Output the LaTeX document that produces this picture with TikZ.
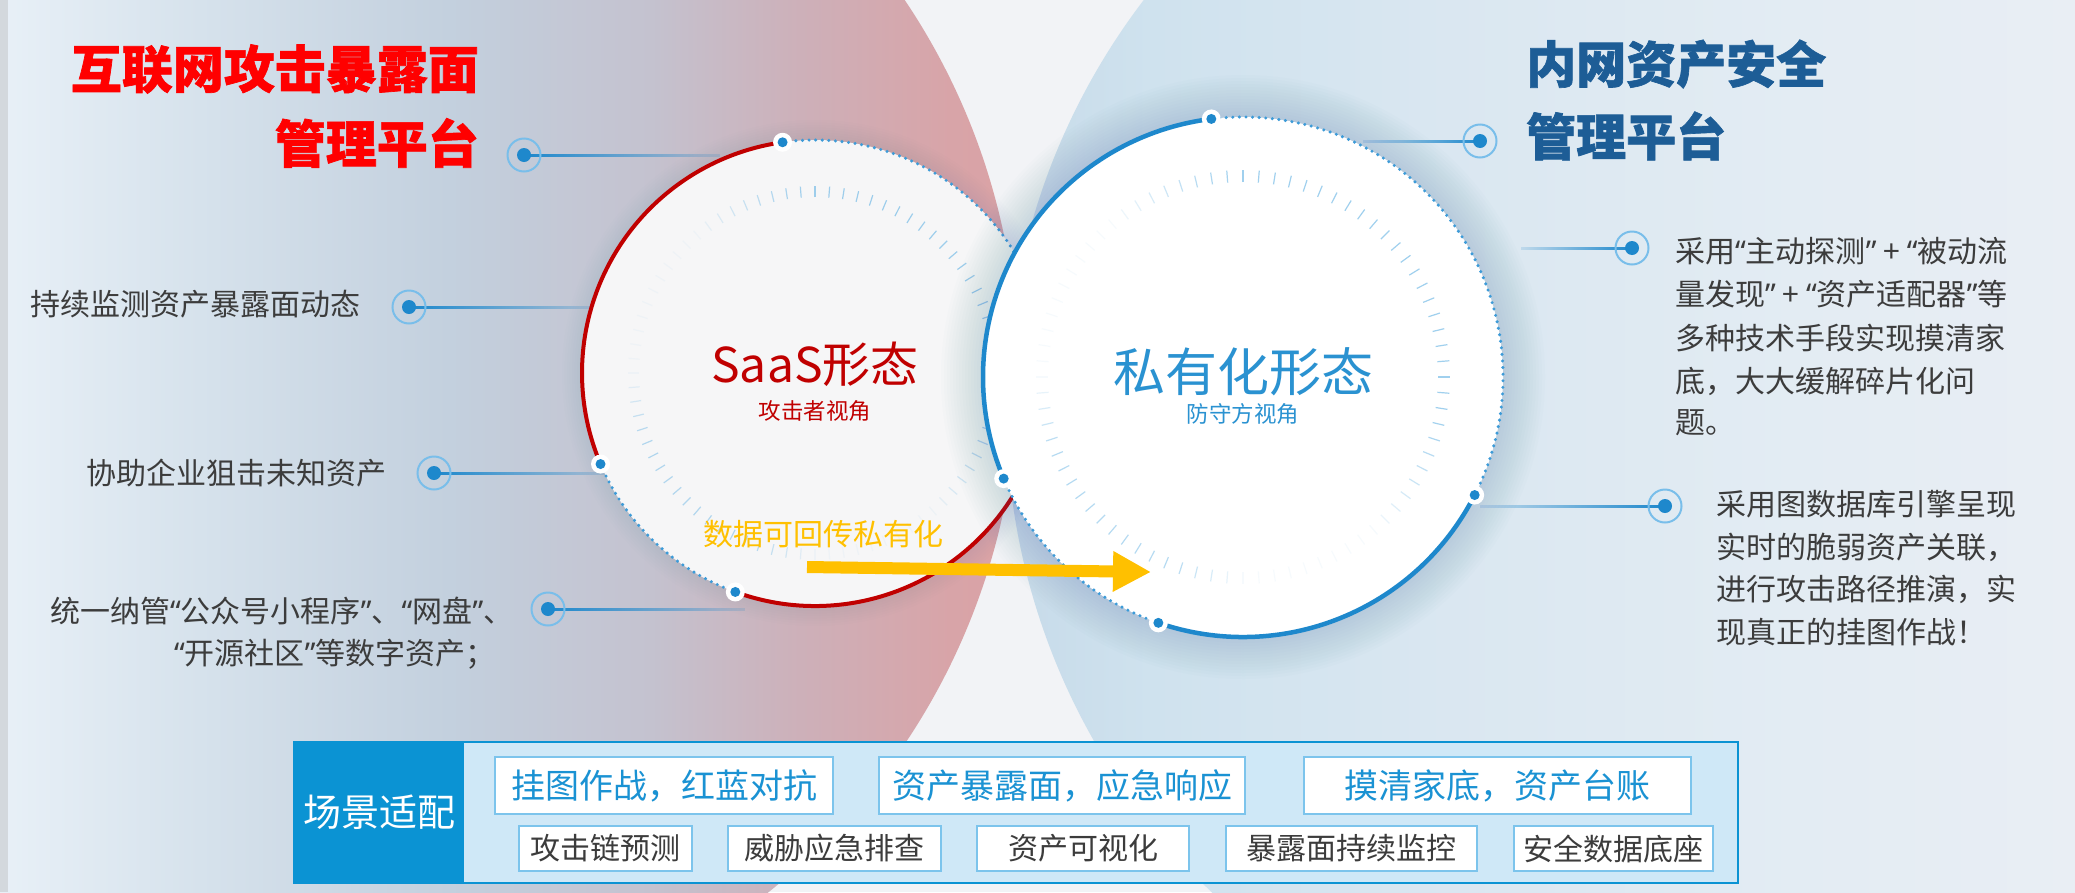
\documentclass[tikz,border=0pt]{standalone}
\usepackage{fontspec}
\setmainfont{Noto Sans CJK SC}
\newfontfamily\latq{Noto Sans}
\newfontfamily\heavy[BoldFeatures={FakeBold=1.3}]{Noto Sans CJK SC}
\newcommand\zql{{\latq “}}
\newcommand\zqr{{\latq ”}}
\usetikzlibrary{arrows.meta,fadings,calc}

\definecolor{bgc}{HTML}{F2F3F6}
\definecolor{sred}{HTML}{C00000}
\definecolor{tred}{HTML}{FF0000}
\definecolor{pblue}{HTML}{2A92D1}
\definecolor{dblue}{HTML}{1D5D96}
\definecolor{mblue}{HTML}{1E88CC}
\definecolor{ringc}{HTML}{79BEEA}
\definecolor{tickc}{HTML}{74BAE6}
\definecolor{dotc}{HTML}{3D9BD8}
\definecolor{txt}{HTML}{3C3C3C}
\definecolor{gold}{HTML}{FFC000}
\definecolor{panelb}{HTML}{0B93D3}
\definecolor{panelf}{HTML}{CFE8F7}
\definecolor{boxb}{HTML}{7CC4EC}
\definecolor{boxt}{HTML}{1A92D3}
\definecolor{strip}{HTML}{D3D8DD}
\definecolor{shadowc}{HTML}{4A7BA5}
\definecolor{cfill}{HTML}{F6F6F7}

\definecolor{pk0}{HTML}{E8F0F7}
\definecolor{pk1}{HTML}{D6E2EC}
\definecolor{pk2}{HTML}{C3D0DE}
\definecolor{pk3}{HTML}{C4C2CF}
\definecolor{pk4}{HTML}{CDB0B9}
\definecolor{pk5}{HTML}{D8A4A8}
\definecolor{pk6}{HTML}{DBA2A5}
\pgfdeclarehorizontalshading{pinkbg}{100bp}{color(0bp)=(pk0); color(25bp)=(pk0); color(34.8bp)=(pk1); color(47bp)=(pk2); color(56.9bp)=(pk3); color(64.2bp)=(pk4); color(71.6bp)=(pk5); color(75bp)=(pk6); color(100bp)=(pk6)}
\definecolor{bl0}{HTML}{C6DAE9}
\definecolor{bl1}{HTML}{CFE2EE}
\definecolor{bl2}{HTML}{DAE7F1}
\definecolor{bl3}{HTML}{E3ECF3}
\definecolor{bl4}{HTML}{E9EEF4}
\pgfdeclarehorizontalshading{bluebg}{100bp}{color(0bp)=(bl0); color(25bp)=(bl0); color(32bp)=(bl1); color(45.9bp)=(bl2); color(62.2bp)=(bl3); color(75bp)=(bl4); color(100bp)=(bl4)}
\tikzfading[name=fadeR, left color=transparent!0, right color=transparent!85]
\tikzfading[name=fadeL, left color=transparent!85, right color=transparent!0]

\begin{document}
\begin{tikzpicture}[x=1pt,y=-1pt,
  ring/.style={circle, draw=ringc, line width=2pt, minimum size=33pt, inner sep=0pt},
  cdot/.style={circle, fill=white, minimum size=19pt, inner sep=0pt},
  side/.style={inner sep=0pt, text=txt, font=\fontsize{30}{36}\selectfont},
  topbox/.style={draw=boxb, line width=2pt, fill=white, inner sep=0pt, minimum height=57pt, text=boxt, font=\fontsize{34}{40}\selectfont},
  botbox/.style={draw=boxb, line width=2pt, fill=white, inner sep=0pt, minimum height=45pt, text=txt, font=\fontsize{30}{36}\selectfont},
  solidred/.style={sred, line width=4pt},
  solidblue/.style={mblue, line width=4.5pt},
  dotarc/.style={dotc, line width=3.4pt, line cap=round, dash pattern=on 0pt off 6.6pt},
  tick/.style={tickc, line width=1.2pt},
  link/.style={mblue},
  titlefont/.style={font=\fontsize{#1}{60}\selectfont\heavy\bfseries},
]
\useasboundingbox (0,0) rectangle (2075,892);
\fill[bgc] (0,0) rectangle (2075,892);
% large background regions
\begin{scope}
  \clip (1679,408) circle[radius=673];
  \shade[shading=bluebg] (1000,0) rectangle (2075,892);
\end{scope}
\begin{scope}
  \clip (351,372) circle[radius=667];
  \shade[shading=pinkbg] (0,0) rectangle (1020,892);
\end{scope}
\fill[strip] (0,0) rectangle (8,892);

% centres
\coordinate (C1) at (815,373);
\coordinate (C2) at (1243,377);

% marker positions and connector ends
\coordinate (m1) at (524,155);   \coordinate (e1) at (720,155);
\coordinate (m2) at (409,307);   \coordinate (e2) at (600,307);
\coordinate (m3) at (434,473);   \coordinate (e3) at (610,473);
\coordinate (m4) at (548,609);   \coordinate (e4) at (745,609);
\coordinate (m5) at (1480,141);  \coordinate (s5) at (1363,141);
\coordinate (m6) at (1632,248);  \coordinate (s6) at (1521,248);
\coordinate (m7) at (1665,506);  \coordinate (s7) at (1480,506);

\fill[link, path fading=fadeR] ($(m1)+(0,-1.5)$) rectangle ($(e1)+(0,1.5)$);
\fill[link, path fading=fadeR] ($(m2)+(0,-1.5)$) rectangle ($(e2)+(0,1.5)$);
\fill[link, path fading=fadeR] ($(m3)+(0,-1.5)$) rectangle ($(e3)+(0,1.5)$);
\fill[link, path fading=fadeR] ($(m4)+(0,-1.5)$) rectangle ($(e4)+(0,1.5)$);
\fill[link, path fading=fadeL] ($(s5)+(0,-1.5)$) rectangle ($(m5)+(0,1.5)$);
\fill[link, path fading=fadeL] ($(s6)+(0,-1.5)$) rectangle ($(m6)+(0,1.5)$);
\fill[link, path fading=fadeL] ($(s7)+(0,-1.5)$) rectangle ($(m7)+(0,1.5)$);

\foreach \mk in {m1,m2,m3,m4,m5,m6,m7}{
  \node[ring] (r\mk) at (\mk) {};
  \fill[mblue] (\mk) circle[radius=7];
}

% ---- SaaS circle ----
\foreach \k in {1,...,8} \fill[shadowc, opacity=0.01] (C1) circle[radius=233+2.5*\k];
\fill[cfill] (C1) circle[radius=233];
\foreach \i in {0,...,79}{
  \pgfmathsetmacro\ta{\i*4.5}
  \pgfmathsetmacro\tko{0.06+0.62*max(min(1,1.6*max(0,cos(\ta-40))),0.75*min(1,1.5*max(0,cos(2*(\ta-225)))))}
  \draw[tick, opacity=\tko] ($(C1)+(-\ta:176)$) -- ($(C1)+(-\ta:187)$);
}
\draw[solidred] (C1) ++(-98:233) arc[start angle=-98, end angle=-203, radius=233];
\draw[dotarc] (C1) ++(-203:233) arc[start angle=-203, end angle=-250, radius=233];
\draw[solidred] (C1) ++(-250:233) arc[start angle=-250, end angle=-333, radius=233];
\draw[dotarc] (C1) ++(27:233) arc[start angle=27, end angle=-98, radius=233];
\node[cdot] (rd1) at ($(C1)+(-98:233)$) {};
\node[cdot] (rd2) at ($(C1)+(-203:233)$) {};
\node[cdot] (rd3) at ($(C1)+(-250:233)$) {};
\foreach \d in {rd1,rd2,rd3} \fill[mblue] (\d.center) circle[radius=5];
\node[inner sep=0pt, text=sred, font=\fontsize{48}{56}\selectfont] (saas) at (815,364) {SaaS形态};
\node[inner sep=0pt, text=sred, font=\fontsize{22.5}{26}\selectfont] (saas2) at (815,410.5) {攻击者视角};

% ---- private circle ----
\foreach \k in {1,...,14} \fill[shadowc, opacity=0.014] (C2) circle[radius=260+3*\k];
\fill[white] (C2) circle[radius=260];
\foreach \i in {0,...,79}{
  \pgfmathsetmacro\ta{\i*4.5}
  \pgfmathsetmacro\tko{0.06+0.62*max(min(1,1.6*max(0,cos(\ta-40))),0.75*min(1,1.5*max(0,cos(2*(\ta-225)))))}
  \draw[tick, opacity=\tko] ($(C2)+(-\ta:195)$) -- ($(C2)+(-\ta:207)$);
}
\draw[solidblue] (C2) ++(-97:260) arc[start angle=-97, end angle=-203, radius=260];
\draw[dotarc] (C2) ++(-203:260) arc[start angle=-203, end angle=-251, radius=260];
\draw[solidblue] (C2) ++(-251:260) arc[start angle=-251, end angle=-333, radius=260];
\draw[dotarc] (C2) ++(27:260) arc[start angle=27, end angle=-97, radius=260];
\node[cdot] (bd1) at ($(C2)+(-97:260)$) {};
\node[cdot] (bd2) at ($(C2)+(-203:260)$) {};
\node[cdot] (bd3) at ($(C2)+(-251:260)$) {};
\node[cdot] (bd4) at ($(C2)+(-333:260)$) {};
\foreach \d in {bd1,bd2,bd3,bd4} \fill[mblue] (\d.center) circle[radius=5];
\node[inner sep=0pt, text=pblue, font=\fontsize{52}{60}\selectfont] (priv) at (1243,372) {私有化形态};
\node[inner sep=0pt, text=pblue, font=\fontsize{22.5}{26}\selectfont] (priv2) at (1243,414) {防守方视角};

% ---- transfer arrow ----
\node[inner sep=0pt, anchor=west, text=gold, font=\fontsize{30}{36}\selectfont] (back) at (703,534) {数据可回传私有化};
\coordinate (as) at (807,567);
\coordinate (ae) at (1151,572);
\draw[gold, line width=12pt, -{Triangle[length=38pt, width=38pt]}] (as) -- (ae);

% ---- titles ----
\node[inner sep=0pt, anchor=east, text=tred, titlefont=51] (tl1) at (479,69) {互联网攻击暴露面};
\node[inner sep=0pt, anchor=east, text=tred, titlefont=51] (tl2) at (479,143) {管理平台};
\node[inner sep=0pt, anchor=west, text=dblue, titlefont=50] (tr1) at (1526,64) {内网资产安全};
\node[inner sep=0pt, anchor=west, text=dblue, titlefont=50] (tr2) at (1526,136) {管理平台};

% ---- left texts ----
\node[side, anchor=east] (l1) at (361,304) {持续监测资产暴露面动态};
\node[side, anchor=east] (l2) at (387,473) {协助企业狙击未知资产};
\node[side, anchor=west] (l3) at (50,611) {统一纳管\zql 公众号小程序\zqr 、\zql 网盘\zqr 、};
\node[side, anchor=west] (l4) at (174,654) {\zql 开源社区\zqr 等数字资产；};

% ---- right texts ----
\node[side, anchor=west] (p1) at (1675,251) {采用\zql 主动探测\zqr{} + \zql 被动流};
\node[side, anchor=west] (p2) at (1675,294) {量发现\zqr{} + \zql 资产适配器\zqr 等};
\node[side, anchor=west] (p3) at (1675,338) {多种技术手段实现摸清家};
\node[side, anchor=west] (p4) at (1675,381) {底，大大缓解碎片化问};
\node[side, anchor=west] (p5) at (1675,423) {题。};
\node[side, anchor=west] (q1) at (1716,504) {采用图数据库引擎呈现};
\node[side, anchor=west] (q2) at (1716,547) {实时的脆弱资产关联，};
\node[side, anchor=west] (q3) at (1716,589) {进行攻击路径推演，实};
\node[side, anchor=west] (q4) at (1716,632) {现真正的挂图作战！};

% ---- scenario panel ----
\node[draw=panelb, fill=panelf, line width=2.5pt, minimum width=1444pt, minimum height=141pt, inner sep=0pt] (panel) at (1016,812.5) {};
\node[fill=panelb, minimum width=170pt, minimum height=141pt, inner sep=0pt, text=white, font=\fontsize{38}{44}\selectfont] (scene) at (379,812.5) {场景适配};
\node[topbox, minimum width=338pt] (b1) at (664,785.5) {挂图作战，红蓝对抗};
\node[topbox, minimum width=366pt] (b2) at (1062,785.5) {资产暴露面，应急响应};
\node[topbox, minimum width=387pt] (b3) at (1497.5,785.5) {摸清家底，资产台账};
\node[botbox, minimum width=173pt] (c1) at (605.5,848.5) {攻击链预测};
\node[botbox, minimum width=213pt] (c2) at (834.5,848.5) {威胁应急排查};
\node[botbox, minimum width=212pt] (c3) at (1083,848.5) {资产可视化};
\node[botbox, minimum width=251pt] (c4) at (1351.5,848.5) {暴露面持续监控};
\node[botbox, minimum width=199pt] (c5) at (1613.5,848.5) {安全数据底座};
\end{tikzpicture}
\end{document}
